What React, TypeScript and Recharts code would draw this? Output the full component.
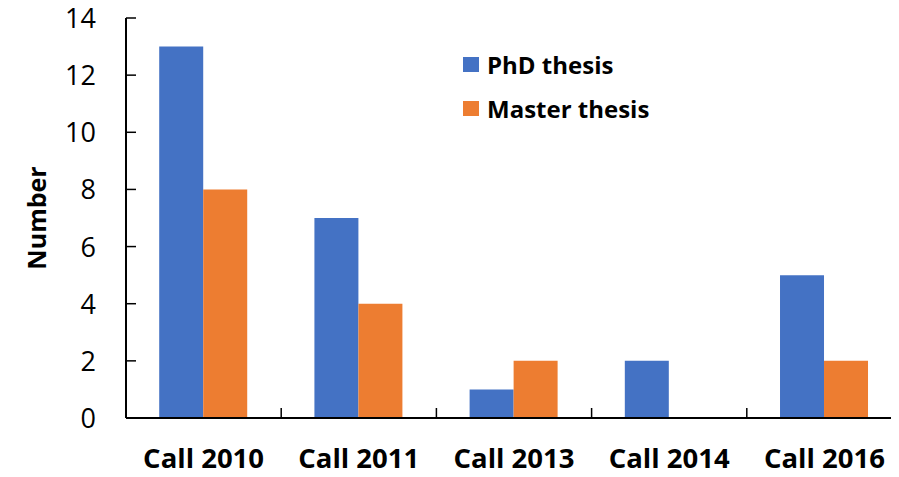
import { BarChart, Bar, XAxis, YAxis, Legend } from "recharts";

const calls = ["Call 2010", "Call 2011", "Call 2013", "Call 2014", "Call 2016"];
const phd = [13, 7, 1, 2, 5];
const master = [8, 4, 2, 0, 2];
const yTicks = [0, 2, 4, 6, 8, 10, 12, 14];
const seriesNames = ["PhD thesis", "Master thesis"];

const data = calls.map((call, i) => ({ call, phd: phd[i], master: master[i] }));

const FONT = "'Open Sans', 'Noto Sans', sans-serif";
const BLUE = "#4472C4";
const ORANGE = "#ED7D31";
const W = 910;
const H = 477;
const LEFT = 126;
const RIGHT_M = 8;
const BAND = (W - LEFT - RIGHT_M) / calls.length;

const XTick = (props: any) => {
  const { x, y, payload } = props;
  const half = payload && payload.offset ? payload.offset : BAND / 2;
  return (
    <g>
      <line x1={x + half} x2={x + half} y1={y} y2={y - 10} stroke="#000" strokeWidth={1.5} />
      <text x={x} y={y + 50} textAnchor="middle" fontFamily={FONT} fontSize={27.5} fontWeight={700} fill="#000">
        {payload.value}
      </text>
    </g>
  );
};

const YTick = (props: any) => {
  const { x, y, payload } = props;
  return (
    <g>
      <line x1={x} x2={x + 10} y1={y} y2={y} stroke="#000" strokeWidth={1.5} />
      <text x={x - 30} y={y + 10} textAnchor="end" fontFamily={FONT} fontSize={27} fill="#000">
        {payload.value}
      </text>
    </g>
  );
};

const YLabel = (props: any) => {
  const vb = props.viewBox || { x: 0, y: 18, width: LEFT, height: 400 };
  const cy = vb.y + vb.height / 2;
  const cx = 36;
  return (
    <text
      x={cx}
      y={cy}
      transform={`rotate(-90 ${cx} ${cy})`}
      textAnchor="middle"
      dominantBaseline="central"
      fontFamily={FONT}
      fontSize={25}
      fontWeight={700}
      fill="#000"
    >
      Number
    </text>
  );
};

const LegendBox = (props: any) => {
  const items = [...(props.payload || [])].sort(
    (a: any, b: any) => seriesNames.indexOf(a.value) - seriesNames.indexOf(b.value)
  );
  return (
    <div style={{ fontFamily: FONT }}>
      {items.map((it: any) => (
        <div key={it.value} style={{ display: "flex", alignItems: "center", height: 44 }}>
          <span style={{ width: 16, height: 15, background: it.color, display: "inline-block", marginRight: 8 }} />
          <span style={{ fontSize: 24, fontWeight: 700, color: "#000" }}>{it.value}</span>
        </div>
      ))}
    </div>
  );
};

export default function App() {
  return (
    <div style={{ margin: -8, width: 899, height: H, overflow: "hidden", background: "#fff" }}>
      <BarChart
        width={W}
        height={H}
        data={data}
        margin={{ top: 18, right: RIGHT_M, left: 0, bottom: 0 }}
        barCategoryGap="21.4%"
        barGap={0}
        style={{ fontFamily: FONT }}
      >
        <XAxis
          dataKey="call"
          height={H - 418}
          axisLine={{ stroke: "#000", strokeWidth: 2 }}
          tickLine={false}
          tickSize={0}
          tickMargin={0}
          tick={<XTick />}
          interval={0}
        />
        <XAxis
          xAxisId="top"
          dataKey="call"
          orientation="top"
          height={0}
          axisLine={{ stroke: "#000", strokeWidth: 2 }}
          tick={false}
          tickLine={false}
        />
        <YAxis
          width={LEFT}
          domain={[0, 14]}
          ticks={yTicks}
          interval={0}
          axisLine={{ stroke: "#000", strokeWidth: 2 }}
          tickLine={false}
          tickSize={0}
          tickMargin={0}
          tick={<YTick />}
          label={<YLabel />}
        />
        <Legend
          layout="vertical"
          verticalAlign="middle"
          align="center"
          content={<LegendBox />}
          wrapperStyle={{ top: 42, left: 463, width: 260 }}
        />
        <Bar dataKey="phd" name="PhD thesis" fill={BLUE} isAnimationActive={false} />
        <Bar dataKey="master" name="Master thesis" fill={ORANGE} isAnimationActive={false} />
      </BarChart>
    </div>
  );
}
